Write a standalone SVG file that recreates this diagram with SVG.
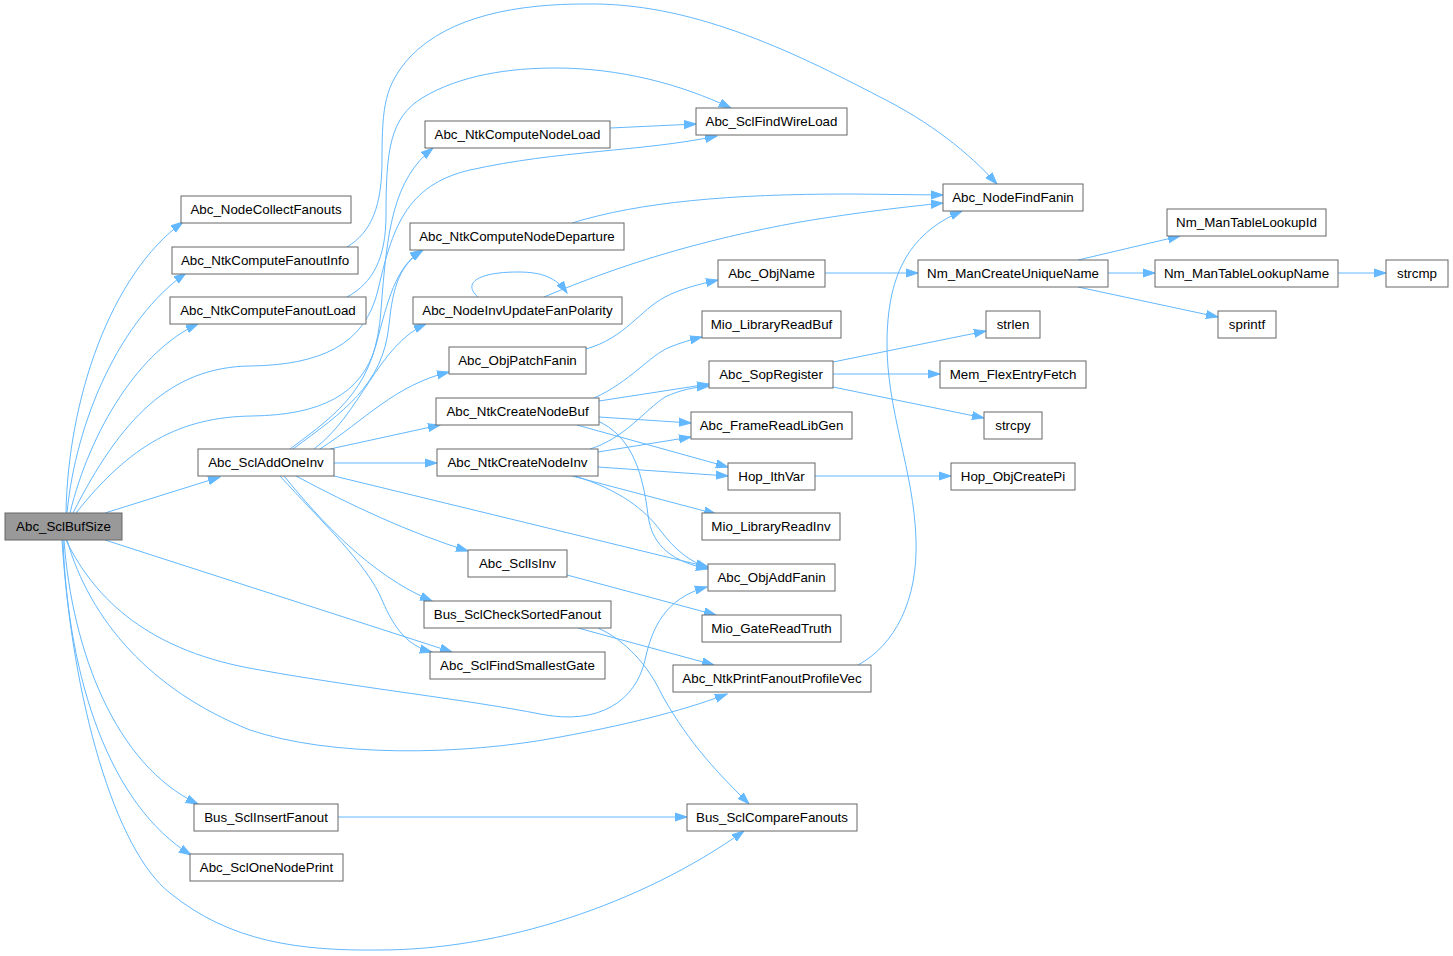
<svg xmlns="http://www.w3.org/2000/svg" width="1453" height="956" viewBox="0 0 1453 956">
<style>
.n rect{fill:#fff;stroke:#666;stroke-width:1}
.n text{font-family:"Liberation Sans",Arial,sans-serif;font-size:13.33px;fill:#000;text-anchor:middle}
#edges path{fill:none;stroke:#63b8ff;stroke-width:1;marker-end:url(#a)}
</style>
<defs>
<marker id="a" markerWidth="13" markerHeight="11" refX="12" refY="5.5" orient="auto" markerUnits="userSpaceOnUse">
<path d="M0,1.5 L12,5.5 L0,9.5 z" fill="#63b8ff" stroke="#63b8ff" stroke-width="1"/>
</marker>
</defs>
<rect width="1453" height="956" fill="#fff"/>
<g id="edges">
<path d="M66,513 C68,400 110,275 183,222"/>
<path d="M67,513 C76,420 120,320 186,273"/>
<path d="M70,513 C90,430 140,350 198,324"/>
<path d="M73,513 C120,420 170,367 250,366 C320,365 365,345 378,290 C392,230 405,185 470,170 C560,150 640,152 717,136"/>
<path d="M76,513 C130,445 180,417 252,416 C320,415 362,395 376,345 C388,300 395,268 422,250"/>
<path d="M105,513 L220,477"/>
<path d="M105,540 L452,652"/>
<path d="M66,540 C95,600 150,652 260,670 C360,688 470,700 540,714 C600,726 636,700 645,660 C652,628 665,598 707,587"/>
<path d="M67,540 C90,620 150,690 250,730 C330,757 460,756 560,737 C620,726 680,712 727,694"/>
<path d="M64,540 C72,650 115,765 198,804"/>
<path d="M63,540 C68,680 110,805 191,855"/>
<path d="M62,540 C72,700 115,850 170,893 C230,942 300,951 380,950 C500,950 640,905 744,831"/>
<path d="M347,247 C372,232 382,205 382,160 C382,105 385,85 410,57 C450,15 520,4 585,4 C690,2 790,50 880,97 C930,122 968,152 997,184"/>
<path d="M347,297 C373,283 386,258 386,215 C386,150 390,118 422,98 C460,75 510,68 555,68 C620,68 680,84 731,108"/>
<path d="M290,449 C340,412 376,385 381,310 C387,230 393,180 433,148"/>
<path d="M293,449 C343,412 383,385 389,325 C393,285 400,265 423,250"/>
<path d="M314,449 C360,415 378,345 426,324"/>
<path d="M320,449 C365,420 395,385 449,372"/>
<path d="M330,449 L440,425"/>
<path d="M334,463 L437,463"/>
<path d="M334,476 L708,567"/>
<path d="M296,476 C350,505 410,533 468,551"/>
<path d="M284,476 C320,520 370,575 432,601"/>
<path d="M280,476 C320,520 368,565 382,600 C395,630 408,646 432,652"/>
<path d="M610,128 L696,124"/>
<path d="M572,223 C640,202 730,194 850,194 L943,195"/>
<path d="M478,297 C462,283 478,272 518,272 C541,272 556,277 567,293"/>
<path d="M544,297 C620,265 700,240 800,222 C860,212 905,207 943,203"/>
<path d="M586,349 C625,338 640,310 665,297 C680,289 700,284 718,280"/>
<path d="M594,398 C630,382 650,355 670,347 C680,343 690,340 702,337"/>
<path d="M599,401 L709,384"/>
<path d="M599,417 L691,423"/>
<path d="M577,425 L728,467"/>
<path d="M598,421 C628,435 642,465 648,515 C652,548 675,562 708,569"/>
<path d="M590,449 C625,438 645,410 665,397 C680,390 695,387 709,386"/>
<path d="M598,452 L691,437"/>
<path d="M598,467 L728,476"/>
<path d="M572,476 L716,514"/>
<path d="M575,476 C620,490 645,510 660,530 C675,550 690,562 709,568"/>
<path d="M567,575 L716,615"/>
<path d="M578,628 L714,665"/>
<path d="M598,628 C625,640 648,665 662,695 C690,745 720,775 749,804"/>
<path d="M338,817 L687,817"/>
<path d="M858,665 C895,645 918,600 916,540 C914,470 886,410 887,340 C888,280 905,235 962,211"/>
<path d="M825,273 L918,273"/>
<path d="M1078,260 L1180,236"/>
<path d="M1108,273 L1155,273"/>
<path d="M1078,287 L1218,317"/>
<path d="M1338,273 L1386,273"/>
<path d="M833,362 L986,331"/>
<path d="M833,374 L940,374"/>
<path d="M833,387 L984,418"/>
<path d="M815,476 L951,476"/>
</g>
<g id="n1" class="n"><rect x="5" y="513" width="117" height="27" style="fill:#999"/><text x="63.5" y="531">Abc_SclBufSize</text></g>
<g id="n2" class="n"><rect x="181" y="196" width="170" height="27"/><text x="266" y="214">Abc_NodeCollectFanouts</text></g>
<g id="n3" class="n"><rect x="172" y="247" width="186" height="27"/><text x="265" y="265">Abc_NtkComputeFanoutInfo</text></g>
<g id="n4" class="n"><rect x="170" y="297" width="196" height="27"/><text x="268" y="315">Abc_NtkComputeFanoutLoad</text></g>
<g id="n5" class="n"><rect x="198" y="449" width="136" height="27"/><text x="266" y="467">Abc_SclAddOneInv</text></g>
<g id="n6" class="n"><rect x="194" y="804" width="144" height="27"/><text x="266" y="822">Bus_SclInsertFanout</text></g>
<g id="n7" class="n"><rect x="190" y="854" width="153" height="27"/><text x="266.5" y="872">Abc_SclOneNodePrint</text></g>
<g id="n8" class="n"><rect x="425" y="121" width="185" height="27"/><text x="517.5" y="139">Abc_NtkComputeNodeLoad</text></g>
<g id="n9" class="n"><rect x="410" y="223" width="214" height="27"/><text x="517" y="241">Abc_NtkComputeNodeDeparture</text></g>
<g id="n10" class="n"><rect x="413" y="297" width="209" height="27"/><text x="517.5" y="315">Abc_NodeInvUpdateFanPolarity</text></g>
<g id="n11" class="n"><rect x="449" y="347" width="137" height="27"/><text x="517.5" y="365">Abc_ObjPatchFanin</text></g>
<g id="n12" class="n"><rect x="436" y="398" width="163" height="27"/><text x="517.5" y="416">Abc_NtkCreateNodeBuf</text></g>
<g id="n13" class="n"><rect x="437" y="449" width="161" height="27"/><text x="517.5" y="467">Abc_NtkCreateNodeInv</text></g>
<g id="n14" class="n"><rect x="468" y="550" width="99" height="27"/><text x="517.5" y="568">Abc_SclIsInv</text></g>
<g id="n15" class="n"><rect x="424" y="601" width="187" height="27"/><text x="517.5" y="619">Bus_SclCheckSortedFanout</text></g>
<g id="n16" class="n"><rect x="430" y="652" width="175" height="27"/><text x="517.5" y="670">Abc_SclFindSmallestGate</text></g>
<g id="n17" class="n"><rect x="696" y="108" width="151" height="27"/><text x="771.5" y="126">Abc_SclFindWireLoad</text></g>
<g id="n18" class="n"><rect x="943" y="184" width="140" height="27"/><text x="1013" y="202">Abc_NodeFindFanin</text></g>
<g id="n19" class="n"><rect x="718" y="260" width="107" height="27"/><text x="771.5" y="278">Abc_ObjName</text></g>
<g id="n20" class="n"><rect x="702" y="311" width="139" height="27"/><text x="771.5" y="329">Mio_LibraryReadBuf</text></g>
<g id="n21" class="n"><rect x="709" y="361" width="124" height="27"/><text x="771" y="379">Abc_SopRegister</text></g>
<g id="n22" class="n"><rect x="691" y="412" width="161" height="27"/><text x="771.5" y="430">Abc_FrameReadLibGen</text></g>
<g id="n23" class="n"><rect x="728" y="463" width="87" height="27"/><text x="771.5" y="481">Hop_IthVar</text></g>
<g id="n24" class="n"><rect x="702" y="513" width="138" height="27"/><text x="771" y="531">Mio_LibraryReadInv</text></g>
<g id="n25" class="n"><rect x="708" y="564" width="127" height="27"/><text x="771.5" y="582">Abc_ObjAddFanin</text></g>
<g id="n26" class="n"><rect x="702" y="615" width="139" height="27"/><text x="771.5" y="633">Mio_GateReadTruth</text></g>
<g id="n27" class="n"><rect x="673" y="665" width="198" height="27"/><text x="772" y="683">Abc_NtkPrintFanoutProfileVec</text></g>
<g id="n28" class="n"><rect x="687" y="804" width="170" height="27"/><text x="772" y="822">Bus_SclCompareFanouts</text></g>
<g id="n29" class="n"><rect x="918" y="260" width="190" height="27"/><text x="1013" y="278">Nm_ManCreateUniqueName</text></g>
<g id="n30" class="n"><rect x="1167" y="209" width="159" height="27"/><text x="1246.5" y="227">Nm_ManTableLookupId</text></g>
<g id="n31" class="n"><rect x="1155" y="260" width="183" height="27"/><text x="1246.5" y="278">Nm_ManTableLookupName</text></g>
<g id="n32" class="n"><rect x="1386" y="260" width="62" height="27"/><text x="1417" y="278">strcmp</text></g>
<g id="n33" class="n"><rect x="986" y="311" width="54" height="27"/><text x="1013" y="329">strlen</text></g>
<g id="n34" class="n"><rect x="1218" y="311" width="58" height="27"/><text x="1247" y="329">sprintf</text></g>
<g id="n35" class="n"><rect x="940" y="361" width="146" height="27"/><text x="1013" y="379">Mem_FlexEntryFetch</text></g>
<g id="n36" class="n"><rect x="984" y="412" width="58" height="27"/><text x="1013" y="430">strcpy</text></g>
<g id="n37" class="n"><rect x="951" y="463" width="124" height="27"/><text x="1013" y="481">Hop_ObjCreatePi</text></g>
</svg>
